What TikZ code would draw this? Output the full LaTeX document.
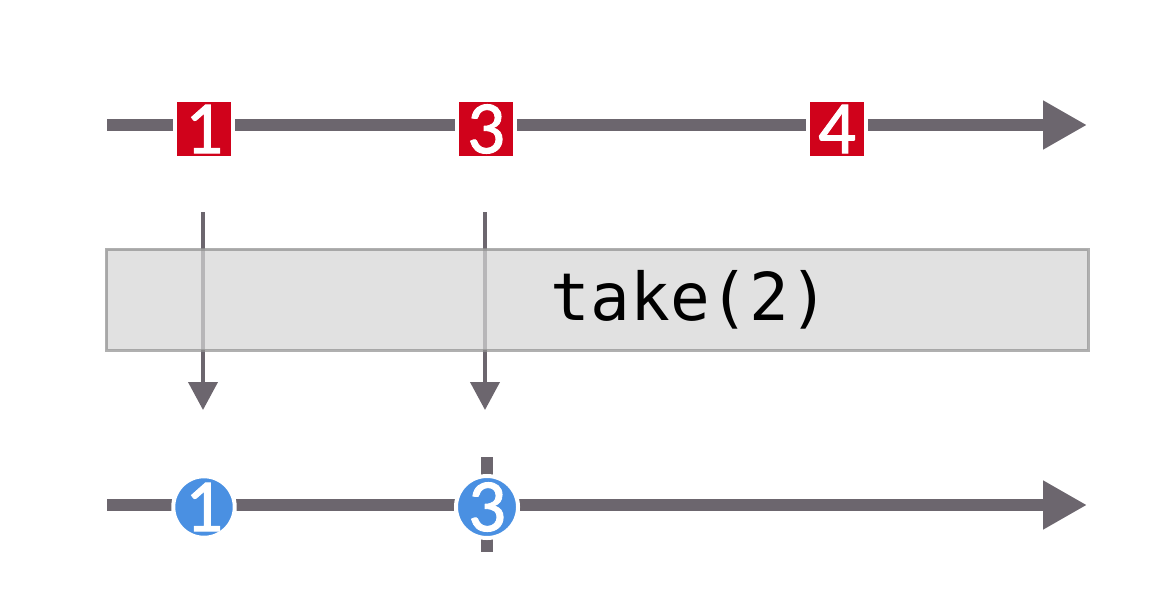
\documentclass[tikz,border=0pt]{standalone}
\usepackage{fontspec}
\setmainfont{DejaVu Sans}
\setmonofont{DejaVu Sans Mono}
\newfontfamily\digitfont[FakeBold=1.2]{Carlito}
\usetikzlibrary{arrows.meta}
\definecolor{linegray}{RGB}{108,102,110}
\definecolor{itemred}{RGB}{208,2,27}
\definecolor{itemblue}{RGB}{74,144,226}
\definecolor{boxfill}{RGB}{213,213,213}
\definecolor{boxline}{RGB}{145,145,145}
\tikzset{
  timeline/.style={draw=linegray, line width=12pt, -{Triangle[length=44pt,width=46pt]}},
  passarrow/.style={draw=linegray, line width=4pt, -{Triangle[length=28pt,width=29pt]}},
  redsq/.style={rectangle, fill=itemred, draw=white, line width=4pt, minimum size=58pt, inner sep=0pt,
    text=white, font=\digitfont\fontsize{75}{75}\selectfont},
  bluecirc/.style={circle, fill=itemblue, draw=white, line width=4pt, minimum size=59pt, inner sep=0pt,
    text=white, font=\digitfont\fontsize{75}{75}\selectfont},
  opbox/.style={rectangle, fill=boxfill, draw=boxline, line width=3pt, opacity=0.72},
  endtick/.style={draw=linegray, line width=12pt}
}
\begin{document}
\begin{tikzpicture}[x=1pt,y=-1pt]
\useasboundingbox (0,0) rectangle (1176,615);
% top timeline
\coordinate (tstart) at (107,125);
\coordinate (tend) at (1087,125);
\draw[timeline] (tstart) -- (tend);
\node[redsq] (s1) at (204,129) {\raisebox{-1pt}{1}};
\node[redsq] (s3) at (486,129) {\raisebox{-1pt}{3}};
\node[redsq] (s4) at (837,129) {\raisebox{-1pt}{4}};
% pass arrows
\coordinate (a1s) at (203,212);
\coordinate (a1e) at (203,410);
\coordinate (a3s) at (485,212);
\coordinate (a3e) at (485,410);
\draw[passarrow] (a1s) -- (a1e);
\draw[passarrow] (a3s) -- (a3e);
% operator box
\path[opbox] (106,249) rectangle (1088,350);
\node[anchor=base, font=\ttfamily\fontsize{66}{66}\selectfont, text=black] (op) at (690,320) {take(2)};
% bottom timeline
\coordinate (bstart) at (107,505);
\coordinate (bend) at (1087,505);
\draw[timeline] (bstart) -- (bend);
\coordinate (ktop) at (487,457);
\coordinate (kbot) at (487,552);
\draw[endtick] (ktop) -- (kbot);
\node[bluecirc] (c1) at (204,507) {\raisebox{-1.5pt}{1}};
\node[bluecirc] (c3) at (487,507) {\raisebox{-1.5pt}{3}};
\end{tikzpicture}
\end{document}
